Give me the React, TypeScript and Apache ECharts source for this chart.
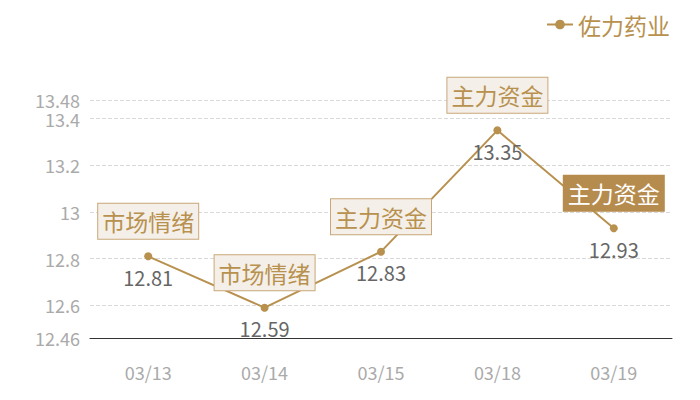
import { useEffect, useRef } from 'react';
import * as echarts from 'echarts';

const dates = ['03/13', '03/14', '03/15', '03/18', '03/19'];
const prices = [12.81, 12.59, 12.83, 13.35, 12.93];
const tags = ['市场情绪', '市场情绪', '主力资金', '主力资金', '主力资金'];
const highlighted = [false, false, false, false, true];

const GOLD = '#b8914f';
const FONT = '"Noto Sans CJK SC", "Noto Sans", sans-serif';

export default function App() {
  const chartRef = useRef<HTMLDivElement>(null);

  useEffect(() => {
    if (!chartRef.current) return;
    const chart = echarts.init(chartRef.current, undefined, { renderer: 'svg' });

    const marks = dates.map((d, i) => ({
      name: tags[i],
      coord: [d, prices[i]],
      label: highlighted[i]
        ? { color: '#fff', backgroundColor: '#b68c4e', borderColor: '#b68c4e' }
        : {},
    }));

    const option: echarts.EChartsOption = {
      animation: false,
      textStyle: { fontFamily: FONT },
      legend: {
        right: 17,
        top: 0,
        itemWidth: 26,
        itemHeight: 12,
        itemGap: 6,
        textStyle: { color: GOLD, fontSize: 23, fontFamily: FONT },
        data: ['佐力药业'],
      },
      // div sits inside the 8px body margin
      grid: { left: 82, right: 20, top: 92, bottom: 54 },
      xAxis: {
        type: 'category',
        data: dates,
        axisLine: { lineStyle: { color: '#333', width: 1 } },
        axisTick: { show: false },
        axisLabel: { color: '#aaa', fontSize: 18, margin: 25 },
      },
      yAxis: {
        type: 'value',
        min: 12.46,
        max: 13.48,
        splitNumber: 5,
        axisLine: { show: false },
        axisTick: { show: false },
        axisLabel: { color: '#aaa', fontSize: 18, margin: 10 },
        splitLine: { lineStyle: { color: '#d9d9d9', type: 'dashed' } },
      },
      series: [
        {
          name: '佐力药业',
          type: 'line',
          data: prices,
          symbol: 'circle',
          symbolSize: 8,
          lineStyle: { color: GOLD, width: 2 },
          itemStyle: { color: GOLD },
          label: {
            show: true,
            position: 'bottom',
            distance: 7,
            color: '#666',
            fontSize: 20,
          },
          markPoint: {
            symbol: 'circle',
            symbolSize: 1,
            itemStyle: { color: 'transparent' },
            label: {
              show: true,
              formatter: '{b}',
              position: 'inside',
              offset: [0, -35],
              color: GOLD,
              fontSize: 23,
              lineHeight: 25,
              backgroundColor: '#f4efe8',
              borderColor: '#c9a878',
              borderWidth: 1,
              padding: [5, 4, 5, 4],
            },
            data: marks as any,
          },
        },
      ],
    };

    chart.setOption(option);
    return () => chart.dispose();
  }, []);

  return <div ref={chartRef} style={{ width: 684, height: 384 }} />;
}
